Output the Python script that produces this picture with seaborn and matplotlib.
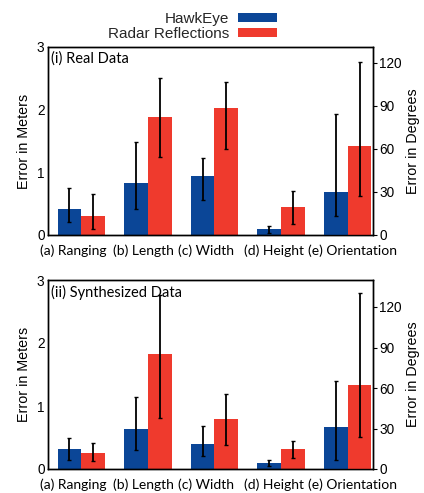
import numpy as np
import pandas as pd
import matplotlib
matplotlib.use("Agg")
import matplotlib.pyplot as plt
from matplotlib.patches import Patch
import seaborn as sns

categories = ["(a) Ranging", "(b) Length", "(c) Width", "(d) Height", "(e) Orientation"]
series = ["HawkEye", "Radar Reflections"]

# Real data: meters for (a)-(d), degrees for (e)
real_hawk = [0.42, 0.83, 0.94, 0.09, 30.1]
real_hawk_lo = [0.20, 0.41, 0.56, 0.03, 13.5]
real_hawk_hi = [0.75, 1.49, 1.23, 0.14, 84.6]
real_radar = [0.30, 1.89, 2.03, 0.45, 61.8]
real_radar_lo = [0.10, 1.24, 1.37, 0.17, 27.0]
real_radar_hi = [0.66, 2.50, 2.44, 0.71, 120.7]

# Synthesized data
syn_hawk = [0.31, 0.64, 0.39, 0.10, 30.8]
syn_hawk_lo = [0.14, 0.30, 0.20, 0.05, 6.7]
syn_hawk_hi = [0.50, 1.15, 0.69, 0.15, 65.1]
syn_radar = [0.25, 1.82, 0.79, 0.32, 62.1]
syn_radar_lo = [0.12, 0.81, 0.38, 0.18, 23.6]
syn_radar_hi = [0.42, 2.76, 1.19, 0.45, 130.4]

panel_titles = ["(i) Real Data", "(ii) Synthesized Data"]
left_ticks = [0, 1, 2, 3]
right_ticks = [0, 30, 60, 90, 120]
right_max = [131, 140]

colors = {"HawkEye": "#0b4697", "Radar Reflections": "#ef3a2d"}

sns.set_theme(style="white")
plt.rcParams["font.family"] = ["Liberation Sans", "DejaVu Sans"]

fig = plt.figure(figsize=(4.24, 4.93), dpi=100)
axes_rects = [[48/424, 1-235/493, 325/424, 188/493],
              [48/424, 1-469/493, 325/424, 189/493]]
label_shift_px = [-8, -4, -8, -7, 5]
xlim = (-0.5, 4.38)
px_per_unit = 325 / (xlim[1] - xlim[0])

panels = [
    (real_hawk, real_hawk_lo, real_hawk_hi, real_radar, real_radar_lo, real_radar_hi),
    (syn_hawk, syn_hawk_lo, syn_hawk_hi, syn_radar, syn_radar_lo, syn_radar_hi),
]

bar_w = 0.71
for i, (rect, pdata) in enumerate(zip(axes_rects, panels)):
    hv, hlo, hhi, rv, rlo, rhi = pdata
    rows = []
    for c, a, b in zip(categories, hv, rv):
        rows.append({"cat": c, "series": "HawkEye", "val": a})
        rows.append({"cat": c, "series": "Radar Reflections", "val": b})
    df = pd.DataFrame(rows)
    df_m = df[df["cat"] != categories[-1]]
    df_d = df[df["cat"] == categories[-1]]

    ax = fig.add_axes(rect)
    ax2 = ax.twinx()
    sns.barplot(data=df_m, x="cat", y="val", hue="series", order=categories,
                hue_order=series, palette=colors, width=bar_w, gap=0,
                linewidth=0, errorbar=None, legend=False, ax=ax, saturation=1)
    sns.barplot(data=df_d, x="cat", y="val", hue="series", order=categories,
                hue_order=series, palette=colors, width=bar_w, gap=0,
                linewidth=0, errorbar=None, legend=False, ax=ax2, saturation=1)

    # error bars
    for k, (vals, lo, hi, off) in enumerate([(hv, hlo, hhi, -bar_w/4), (rv, rlo, rhi, bar_w/4)]):
        for j in range(len(categories)):
            target = ax if j < len(categories) - 1 else ax2
            target.errorbar(j + off, vals[j],
                            yerr=[[vals[j] - lo[j]], [hi[j] - vals[j]]],
                            fmt="none", ecolor="black", elinewidth=1.3,
                            capsize=1.2, capthick=1.0, zorder=5)

    ax.set_ylim(0, 3)
    ax2.set_ylim(0, right_max[i])
    ax.set_xlim(*xlim)
    ax.set_yticks(left_ticks)
    ax2.set_yticks(right_ticks)
    ax.set_xticks([j + dx / px_per_unit for j, dx in enumerate(label_shift_px)])
    ax.set_xticklabels(categories, family=["Lato", "DejaVu Sans"], fontsize=10)
    ax.tick_params(axis="x", length=0, pad=7, colors="black")
    ax.tick_params(axis="y", length=0, pad=2.5, labelsize=9.8, colors="black")
    ax2.tick_params(axis="y", length=3, width=0.8, direction="out", pad=1.5,
                    labelsize=9.8, colors="black")
    ax.set_xlabel("")
    ax.set_ylabel("Error in Meters", fontsize=10.3, labelpad=4, color="black")
    ax2.set_ylabel("Error in Degrees", fontsize=10.3, labelpad=3, color="black")
    for a in (ax, ax2):
        for sp in a.spines.values():
            sp.set_visible(True)
            sp.set_color("black")
            sp.set_linewidth(1.0)
    ax.text(0.01, 0.975, panel_titles[i], transform=ax.transAxes, ha="left", va="top",
            family=["Lato", "DejaVu Sans"], fontsize=10.5, color="black", zorder=10)

handles = [Patch(facecolor=colors[s], edgecolor="none", label=s) for s in series]
fig.legend(handles=handles, loc="upper right", bbox_to_anchor=(288/424, 1 - 1/493),
           frameon=False, markerfirst=False, fontsize=11, handlelength=2.55,
           handleheight=0.5, handletextpad=0.6, labelspacing=0.1, borderpad=0.2)

fig.savefig("out.png", dpi=100)
